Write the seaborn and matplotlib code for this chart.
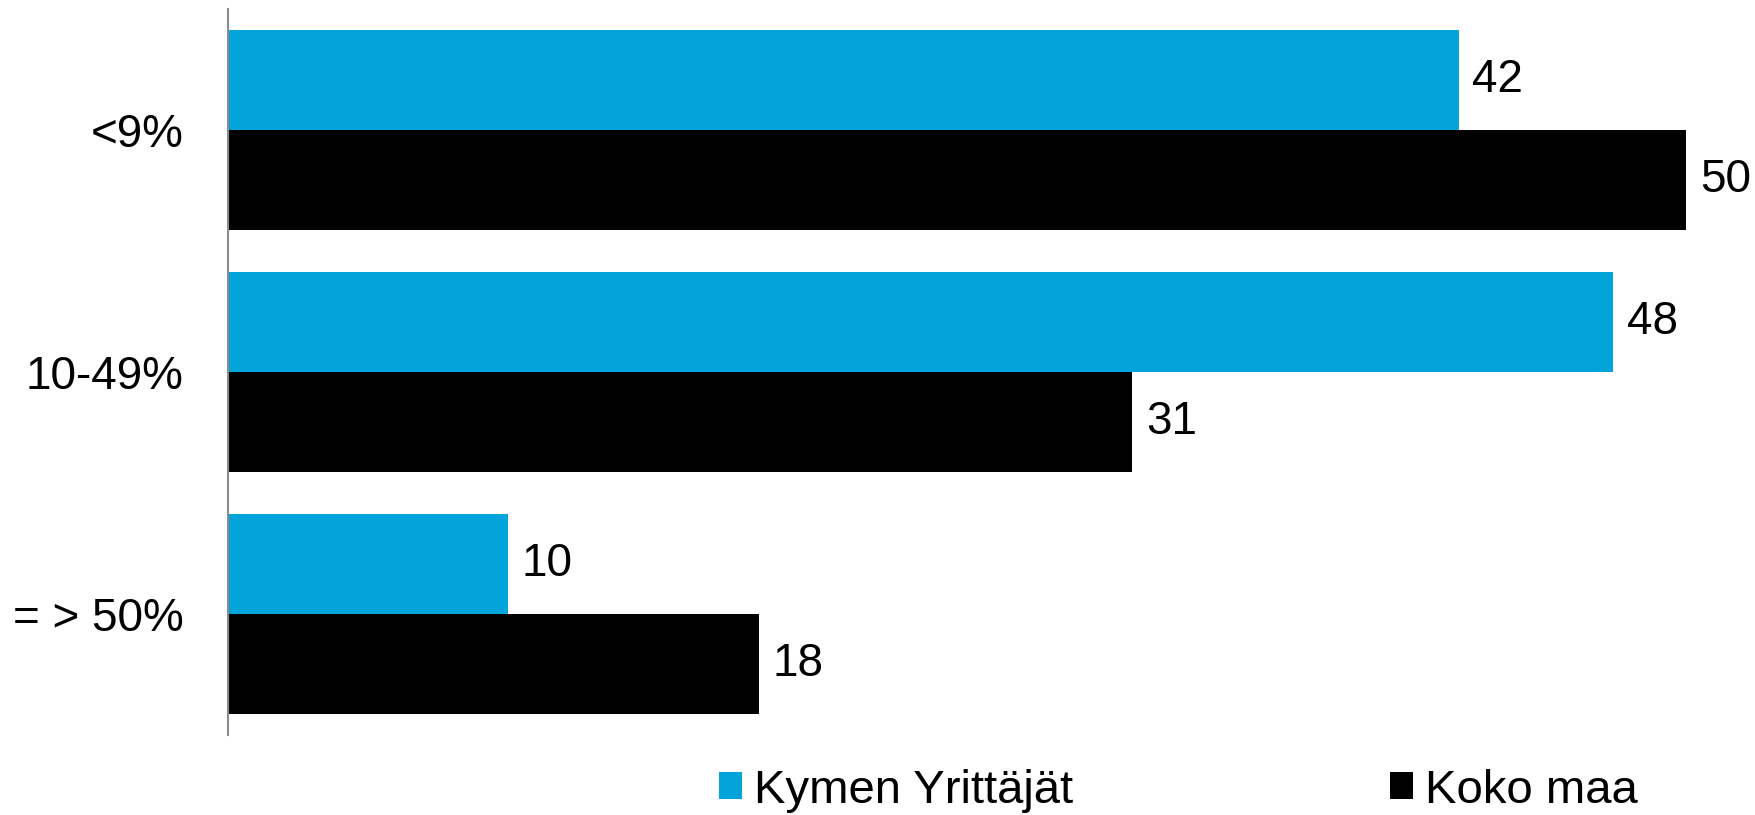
import pandas as pd
import seaborn as sns
import matplotlib.pyplot as plt
from matplotlib.patches import Patch

# Chart data (bar lengths, labels rounded as shown)
categories = ['<9%', '10-49%', '= > 50%']
series_names = ['Kymen Yrittäjät', 'Koko maa']
kymen = [42.2, 47.5, 9.6]
koko_maa = [50.0, 31.0, 18.2]
colors = ['#02A4DA', '#000000']

df = pd.DataFrame({
    'luokka': categories * 2,
    'arvo': kymen + koko_maa,
    'sarja': [series_names[0]] * 3 + [series_names[1]] * 3,
})

sns.set_style('white')
plt.rcParams['font.family'] = ['Liberation Sans', 'DejaVu Sans']

fig = plt.figure(figsize=(17.56, 8.15), dpi=100)
ax = fig.add_axes([228 / 1756, 1 - 735 / 815, 1 - 228 / 1756, 726 / 815])

sns.barplot(data=df, y='luokka', x='arvo', hue='sarja', order=categories,
            hue_order=series_names, palette=colors, orient='h', width=0.83,
            saturation=1, legend=False, linewidth=0, ax=ax)

# Value labels at bar ends
for cont in ax.containers:
    labels = [f'{int(b.get_width() + 0.5)}' for b in cont]
    ax.bar_label(cont, labels=labels, padding=10, fontsize=33, color='black')

ax.set_xlim(0, 52.4)
ax.set_xlabel('')
ax.set_ylabel('')
ax.set_xticks([])
ax.tick_params(axis='y', length=0, pad=32, labelsize=33, labelcolor='black')
for side in ['top', 'right', 'bottom']:
    ax.spines[side].set_visible(False)
ax.spines['left'].set_color('#8c8c8c')
ax.spines['left'].set_linewidth(1.5)

handles = [Patch(facecolor=c, edgecolor='none') for c in colors]
leg = fig.legend(handles, series_names, loc='center', bbox_to_anchor=(0.671, 0.03),
                 ncol=2, frameon=False, fontsize=34, handlelength=0.5, handleheight=0.5,
                 handletextpad=0.25, columnspacing=6.7)
for t in leg.get_texts():
    t.set_color('black')

fig.savefig('out.png', dpi=100)
